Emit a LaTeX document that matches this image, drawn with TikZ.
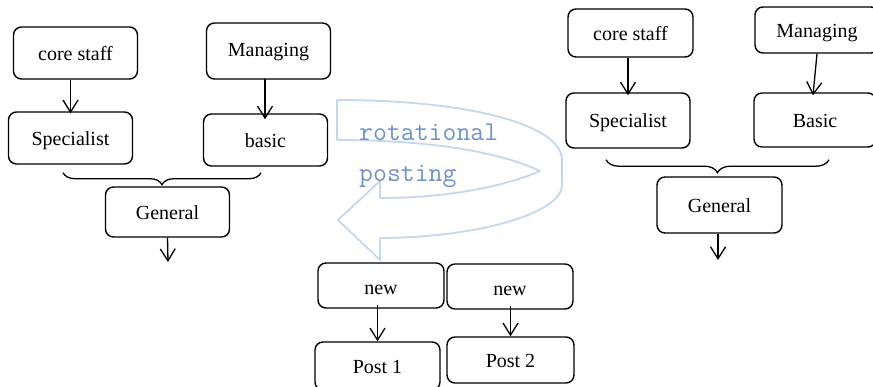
\documentclass[tikz,border=0pt]{standalone}
\usepackage{fontspec}
\setmainfont{Liberation Serif}
\usepackage{tikz}
\usetikzlibrary{arrows.meta,positioning,calc,decorations.pathreplacing}
\definecolor{ribbonBlue}{HTML}{C5D7EF}
\definecolor{labelBlue}{HTML}{6E91C8}

\begin{document}
\begin{tikzpicture}[
    x=1pt, y=-1pt,
    font=\fontsize{20}{24}\selectfont,
    box/.style={draw, rectangle, rounded corners=8pt, line width=1.4pt, minimum width=124pt,
                minimum height=52pt, inner sep=0pt, text height=17pt, text depth=3pt},
    arrow/.style={-{Straight Barb[length=12pt,width=15pt]}, line width=1.3pt},
    curly/.style={decorate, decoration={brace, mirror, amplitude=12pt}, line width=1.3pt},
    ribbon/.style={draw=ribbonBlue, line width=1.8pt, line join=round},
    tag/.style={anchor=base west, inner sep=0pt, text=labelBlue, font=\ttfamily\fontsize{27}{30}\selectfont}
]
    \useasboundingbox (0,0) rectangle (873,386);

    % rotational posting ribbon
    \draw[ribbon] (337,100) .. controls (470,100) and (562,125) .. (562,160)
        -- (562,185) .. controls (562,215) and (470,238) .. (380,238)
        -- (380,260) -- (338,220) -- (380,181) -- (380,198)
        .. controls (460,198) and (515,182) .. (540,171)
        .. controls (500,152) and (430,140) .. (337,140) -- cycle;
    \node[tag] (rot) at (359,140) {rotational};
    \node[tag] (pst) at (359,181) {posting};

    % left group
    \node[box] (cs1) at (75.5,53) {core staff};
    \node[box, minimum height=56pt, text height=13pt] (mg1) at (268.5,51) {Managing};
    \node[box] (sp1) at (70.5,138) {Specialist};
    \node[box] (bs1) at (265.5,140) {basic};
    \node[box, minimum height=50pt] (ge1) at (167.5,212) {General};
    \coordinate (ge1end) at (168,262);

    \draw[arrow] (cs1.south -| sp1.north) -- ([yshift=-2pt]sp1.north);
    \draw[arrow] ([yshift=1pt]mg1.south -| 265,0) -- ([yshift=-6pt]bs1.north -| 265,0);
    \draw[curly] ($(sp1.south)+(-7.5,8)$) -- ($(bs1.south)+(-4.5,6)$);
    \draw[arrow] (ge1.south) -- (ge1end);

    % right group
    \node[box, minimum width=125pt, minimum height=48pt] (cs2) at (630.5,33) {core staff};
    \node[box, minimum height=46pt] (mg2) at (817,30) {Managing};
    \node[box, minimum height=55pt] (sp2) at (628,120.5) {Specialist};
    \node[box, minimum width=122pt, minimum height=54pt] (bs2) at (815,120) {Basic};
    \node[box, minimum width=125pt, minimum height=56pt] (ge2) at (719.5,205) {General};
    \coordinate (ge2end) at (718,260);

    \draw[arrow] (cs2.south -| sp2.north) -- ([yshift=-3pt]sp2.north);
    \draw[arrow] (mg2.south) -- ([xshift=-2pt,yshift=-3pt]bs2.north);
    \draw[curly, decoration={amplitude=13pt}] ($(sp2.south)+(-22,11)$) -- ($(bs2.south)+(14,12)$);
    \draw[arrow] (ge2.south -| ge2end) -- (ge2end);

    % new posts
    \node[box, minimum width=126pt, minimum height=45pt, text height=21pt] (nw1) at (381,285.5) {new};
    \node[box, minimum width=126pt, minimum height=45pt, text height=21pt] (nw2) at (510,286.5) {new};
    \node[box, minimum width=125pt, minimum height=48pt] (ps1) at (377.5,366) {Post 1};
    \node[box, minimum width=127pt, minimum height=46pt] (ps2) at (510.5,360) {Post 2};

    \draw[arrow] ([yshift=4pt]nw1.south -| ps1.north) -- (ps1.north);
    \draw[arrow] ([yshift=4pt]nw2.south -| ps2.north) -- (ps2.north);
\end{tikzpicture}
\end{document}
